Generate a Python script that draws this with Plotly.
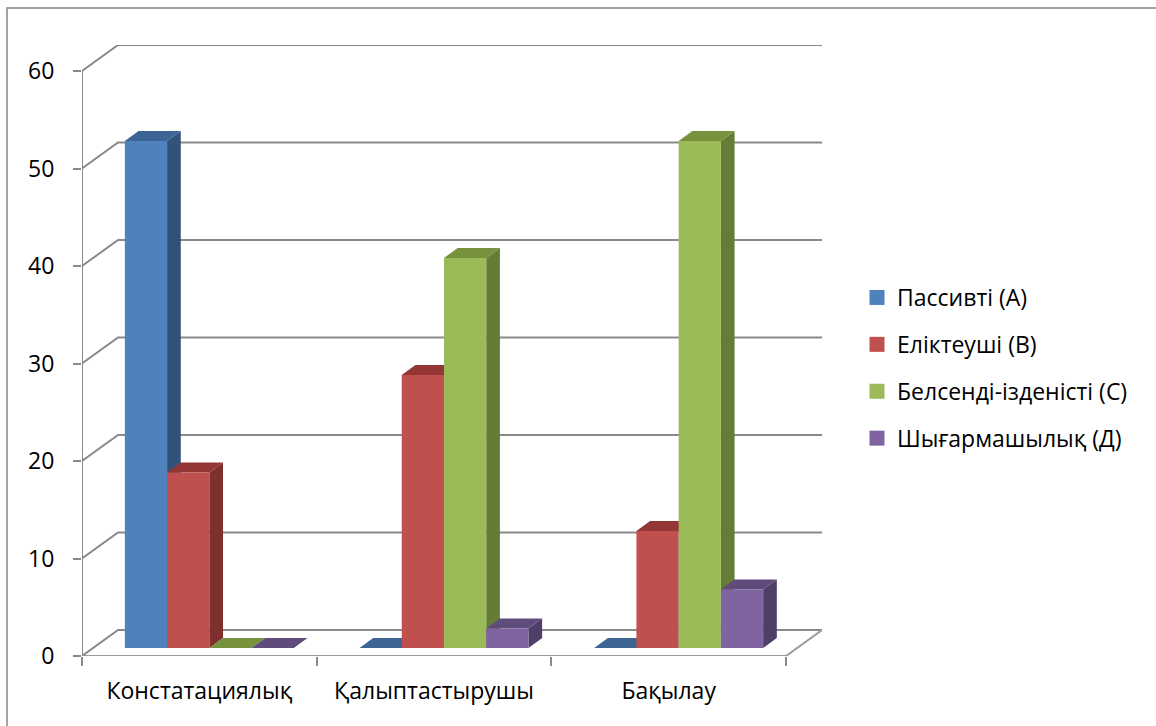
import plotly.graph_objects as go

# ---- data ----
categories = ["Констатациялық", "Қалыптастырушы", "Бақылау"]
series_names = ["Пассивті (А)", "Еліктеуші (В)", "Белсенді-ізденісті (С)", "Шығармашылық (Д)"]
passive = [52, 0, 0]
imitative = [18, 28, 12]
active = [0, 40, 52]
creative = [0, 2, 6]
y_ticks = [0, 10, 20, 30, 40, 50, 60]

series_values = [passive, imitative, active, creative]
front_colors = ["#4F81BD", "#C0504D", "#9BBB59", "#8064A2"]
top_colors = ["#3D6593", "#943634", "#76923C", "#5F4B7C"]
side_colors = ["#32527A", "#7E302E", "#657C36", "#4F3E67"]

# ---- oblique 3D projection helpers ----
W, H = 1156, 726
ML, MR, MT, MB = 82, 334, 45, 70
DX = 36 / 234.6          # full depth shift in category units
DY = 26 / 9.75           # full depth shift in value units
D0, D1 = 0.31, 0.69      # bar depth span
BW = 0.18                # bar width
GROUP_LEFT = -0.365      # relative to category centre
VMAX = max(y_ticks)

def P(x, v, d):
    return x + d * DX, v + d * DY

GRID = "#898989"
fig = go.Figure()

def add_line(pts, color=GRID, width=2):
    fig.add_trace(go.Scatter(x=[p[0] for p in pts], y=[p[1] for p in pts], mode="lines",
                             line=dict(color=color, width=width), hoverinfo="skip",
                             showlegend=False, cliponaxis=False))

xl, xr = -0.5, len(categories) - 0.5
# back wall gridlines with left-wall diagonals
for v in y_ticks:
    add_line([P(xl, v, 0), P(xl, v, 1), P(xr, v, 1)])
# floor front and right edges
add_line([P(xl, 0, 0), P(xr, 0, 0), P(xr, 0, 1)], color="#9A9A9A", width=2)
# vertical value axis line
add_line([P(xl, 0, 0), P(xl, VMAX, 0)])

def add_poly(pts, color):
    xs = [p[0] for p in pts] + [pts[0][0]]
    ys = [p[1] for p in pts] + [pts[0][1]]
    fig.add_trace(go.Scatter(x=xs, y=ys, mode="lines", fill="toself", fillcolor=color,
                             line=dict(width=0, color=color), hoverinfo="skip",
                             showlegend=False))

for c in range(len(categories)):
    for s, vals in enumerate(series_values):
        v = vals[c]
        x0 = c + GROUP_LEFT + s * BW
        x1 = x0 + BW
        if v > 0:
            add_poly([P(x1, 0, D0), P(x1, 0, D1), P(x1, v, D1), P(x1, v, D0)], side_colors[s])
        add_poly([P(x0, v, D0), P(x1, v, D0), P(x1, v, D1), P(x0, v, D1)], top_colors[s])
        if v > 0:
            add_poly([P(x0, 0, D0), P(x1, 0, D0), P(x1, v, D0), P(x0, v, D0)], front_colors[s])

# legend entries
for s, name in enumerate(series_names):
    fig.add_trace(go.Scatter(x=[None], y=[None], mode="markers", name=name,
                             legendgroup=name,
                             marker=dict(symbol="square", size=15, color=front_colors[s],
                                         line=dict(width=0))))

FONT = dict(family="Open Sans, Noto Sans, sans-serif", size=23, color="#000000")

pw = W - ML - MR
ph = H - MT - MB
def px2paper(x, y):
    return (x - ML) / pw, (H - MB - y) / ph

fx0, fy0 = px2paper(7, 8)
fx1, fy1 = px2paper(1170, 740)
lx, ly = px2paper(857, 368)

fig.update_layout(
    width=W, height=H,
    margin=dict(l=ML, r=MR, t=MT, b=MB),
    paper_bgcolor="white", plot_bgcolor="white",
    font=FONT,
    showlegend=True,
    legend=dict(x=lx, y=ly, xanchor="left", yanchor="middle", font=FONT,
                tracegroupgap=14, bgcolor="rgba(0,0,0,0)", itemsizing="trace"),
    xaxis=dict(range=[xl, xr + DX], tickmode="array", tickvals=list(range(len(categories))),
               ticktext=categories, ticks="", showgrid=False, zeroline=False, showline=False,
               ticklabelstandoff=19, fixedrange=True,
               minor=dict(tickmode="array", tickvals=[xl + i for i in range(len(categories) + 1)],
                          ticks="outside", ticklen=9, tickcolor=GRID, tickwidth=2, showgrid=False)),
    yaxis=dict(range=[0, VMAX + DY], tickmode="array", tickvals=y_ticks,
               ticks="outside", ticklen=8, tickcolor=GRID, tickwidth=2,
               showgrid=False, zeroline=False, showline=False,
               ticklabelstandoff=14, fixedrange=True),
    shapes=[dict(type="rect", xref="paper", yref="paper", x0=fx0, y0=fy0, x1=fx1, y1=fy1,
                 line=dict(color="#868686", width=1.5), fillcolor="rgba(0,0,0,0)", layer="below")],
)

fig.write_html("out.html")
